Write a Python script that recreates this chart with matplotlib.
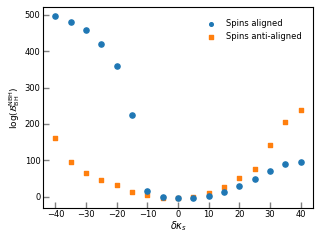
import numpy as np
import matplotlib
matplotlib.use("Agg")
import matplotlib.pyplot as plt

dkappa = [-40, -35, -30, -25, -20, -15, -10, -5, 0, 5, 10, 15, 20, 25, 30, 35, 40]
aligned = [496, 481, 459, 421, 360, 224, 16, -2, -3, -4, 2, 12, 29, 48, 71, 89, 94]
anti_aligned = [160, 94, 66, 47, 31, 14, 4, -4, -5, 0, 10, 26, 50, 76, 143, 204, 239]

fs = 6
plt.rcParams['font.size'] = fs

fig, ax = plt.subplots(figsize=(3.2, 2.4), dpi=100)
ax.scatter(dkappa, aligned, s=14, marker='o', color='#1f77b4', label='Spins aligned', zorder=3)
ax.scatter(dkappa, anti_aligned, s=12, marker='s', color='#ff7f0e', label='Spins anti-aligned', zorder=2)

ax.set_xlabel(r'$\delta\kappa_s$', fontsize=fs + 1, labelpad=0)
ax.set_ylabel(r'$\log(\mathcal{B}_{\rm BH}^{\rm NBH})$', fontsize=fs + 0.5, labelpad=2)
ax.set_xticks([-40, -30, -20, -10, 0, 10, 20, 30, 40])
ax.set_yticks([0, 100, 200, 300, 400, 500])
ax.tick_params(direction='in', color='gray', length=4, width=1.0, labelsize=fs, pad=2)
ax.legend(loc='upper right', frameon=False, fontsize=fs, handletextpad=0.8,
          markerscale=0.7, borderaxespad=1.0)

fig.subplots_adjust(left=0.135, right=0.978, top=0.97, bottom=0.135)
fig.savefig('out.png', dpi=100)
